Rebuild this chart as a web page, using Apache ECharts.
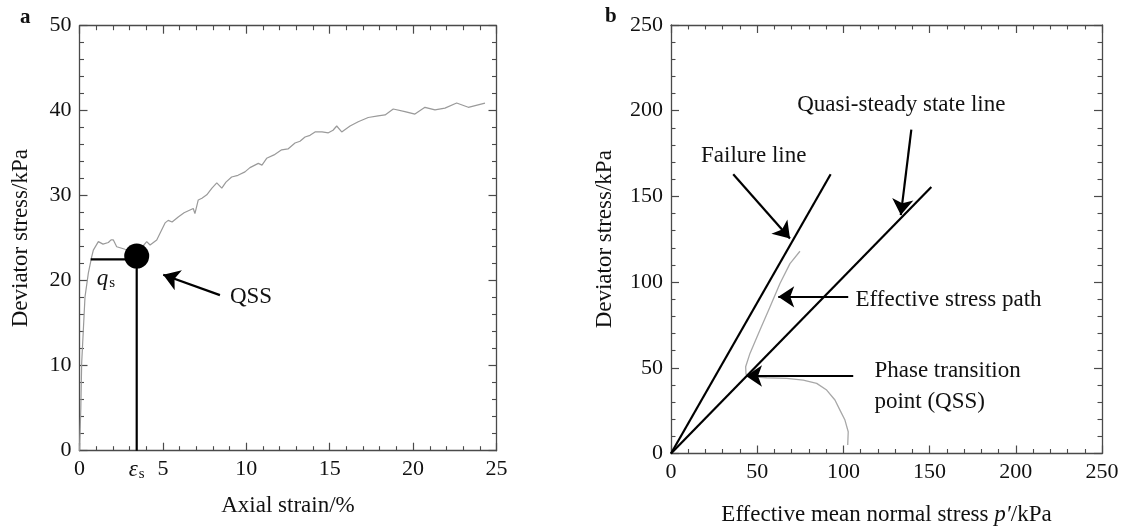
<!DOCTYPE html>
<html><head><meta charset="utf-8">
<script src="https://cdn.jsdelivr.net/npm/echarts@6/dist/echarts.min.js"></script>
<style>html,body{margin:0;padding:0;background:#fff}#c{width:1129px;height:527px}</style>
</head><body><div id="c"></div>
<script>
// ---------- Panel a: stress-strain curve ----------
const strainPct = [0.0, 0.08, 0.13, 0.23, 0.33, 0.53, 0.73, 0.83, 1.13, 1.41, 1.73, 1.89, 2.03, 2.23, 2.73, 3.09, 3.43, 4.03, 4.23, 4.63, 5.13, 5.32, 5.55, 5.92, 6.27, 6.82, 6.92, 7.12, 7.34, 7.63, 7.94, 8.23, 8.53, 8.78, 9.12, 9.50, 9.92, 10.22, 10.72, 10.94, 11.22, 11.66, 12.12, 12.5, 12.92, 13.22, 13.52, 13.82, 14.12, 14.54, 14.92, 15.2, 15.42, 15.72, 16.22, 16.71, 17.31, 17.9, 18.32, 18.81, 19.51, 20.11, 20.71, 21.31, 21.91, 22.61, 23.31, 24.31];
const deviatorA = [0, 5, 10.3, 14.2, 18.1, 20.9, 22.8, 23.6, 24.6, 24.3, 24.5, 24.8, 24.8, 24.0, 23.7, 23.6, 23.2, 24.6, 24.2, 24.8, 26.8, 27.1, 26.9, 27.5, 28.0, 28.5, 27.9, 29.5, 29.7, 30.1, 30.9, 31.5, 30.9, 31.6, 32.2, 32.4, 32.8, 33.3, 33.8, 33.6, 34.4, 34.8, 35.4, 35.5, 36.2, 36.4, 36.9, 37.1, 37.5, 37.5, 37.4, 37.7, 38.2, 37.5, 38.2, 38.7, 39.2, 39.4, 39.5, 40.2, 39.9, 39.6, 40.4, 40.1, 40.3, 40.9, 40.4, 40.9];
const qssStrain = 3.43;      // epsilon_s
const qssStress = 22.9;      // QSS point
const qsLevel = 22.5;        // q_s line level
const qsLineStart = 0.67;
const ticksA_x = [0, 5, 10, 15, 20, 25];
const ticksA_y = [0, 10, 20, 30, 40, 50];
const arrowA = [[8.42, 18.3], [5.02, 20.7]];
const labelQSS_A = [9.02, 18.1];
const labelQs = [1.03, 20.2];

// ---------- Panel b: stress path ----------
const pathP = [102.5, 102.8, 100.9, 98.0, 95.1, 90.3, 84.5, 76.7, 67.1, 55.5, 45.8, 43.5, 43.3, 45.8, 51.6, 57.4, 63.2, 69.0, 74.8];
const pathQ = [5, 12.7, 19.5, 25.3, 31.2, 37.0, 40.9, 42.8, 43.8, 44.2, 44.8, 46.3, 50.6, 58.4, 72, 85.5, 99.2, 110.8, 118];
const failureLine = [[0, 0], [92.6, 162.9]];
const qssLine = [[0, 0], [151, 155.5]];
const ticksB = [0, 50, 100, 150, 200, 250];
const arrowsB = [
  [[36.1, 162.9], [69.0, 125.4]],
  [[139.4, 189], [133.3, 139.1]],
  [[102.8, 91.4], [62.2, 91.4]],
  [[105.7, 45.2], [43.5, 45.2]]
];
const labelsB = [
  {text: 'Failure line', at: [17.4, 173.4]},
  {text: 'Quasi-steady state line', at: [73.2, 203.6]},
  {text: 'Effective stress path', at: [107, 89.5]},
  {text: 'Phase transition\npoint (QSS)', at: [118, 38.9]}
];

const FONT = 'Liberation Serif';
const AX = '#4a4a4a';
const TXT = '#111';

function mkAxis(dir, grid, pos, ticks, showLabel, name, nameGap) {
  const min = ticks[0], max = ticks[ticks.length - 1], interval = ticks[1] - ticks[0];
  return {
    type: 'value', gridIndex: grid, position: pos, min: min, max: max, interval: interval,
    axisLine: {show: true, onZero: false, lineStyle: {color: AX, width: 1.3}},
    axisTick: {show: true, inside: true, length: 8, lineStyle: {color: AX, width: 1.2}},
    minorTick: {show: true, splitNumber: 5, length: 4.5, lineStyle: {color: AX, width: 1.1}},
    splitLine: {show: false}, minorSplitLine: {show: false},
    axisLabel: {show: showLabel, fontFamily: FONT, fontSize: 22, color: TXT, margin: 8},
    name: name || '', nameLocation: 'middle', nameGap: nameGap || 0,
    nameTextStyle: {fontFamily: FONT, fontSize: 23, color: TXT,
      rich: {i: {fontFamily: FONT, fontSize: 23, fontStyle: 'italic', color: TXT}}}
  };
}

const chart = echarts.init(document.getElementById('c'), null, {renderer: 'canvas'});

const annotStyle = {fontFamily: FONT, fontSize: 23, color: TXT};

const option = {
  animation: false,
  backgroundColor: '#fff',
  title: [
    {text: 'a', left: 15, top: 2, textStyle: {fontFamily: FONT, fontWeight: 'bold', fontSize: 21, color: '#111'}},
    {text: 'b', left: 600, top: 1, textStyle: {fontFamily: FONT, fontWeight: 'bold', fontSize: 21, color: '#111'}}
  ],
  grid: [
    {left: 79.5, top: 25.7, width: 417, height: 425, outerBoundsMode: 'none', containLabel: false},
    {left: 671, top: 25, width: 431, height: 428.5, outerBoundsMode: 'none', containLabel: false}
  ],
  xAxis: [
    mkAxis('x', 0, 'bottom', ticksA_x, true, 'Axial strain/%', 44),
    mkAxis('x', 0, 'top', ticksA_x, false),
    mkAxis('x', 1, 'bottom', ticksB, true, 'Effective mean normal stress {i|p′}/kPa', 50),
    mkAxis('x', 1, 'top', ticksB, false)
  ],
  yAxis: [
    mkAxis('y', 0, 'left', ticksA_y, true, 'Deviator stress/kPa', 47),
    mkAxis('y', 0, 'right', ticksA_y, false),
    mkAxis('y', 1, 'left', ticksB, true, 'Deviator stress/kPa', 55),
    mkAxis('y', 1, 'right', ticksB, false)
  ],
  series: [
    // Panel a
    {type: 'line', xAxisIndex: 0, yAxisIndex: 0, showSymbol: false, symbol: 'none',
     lineStyle: {color: '#9a9a9a', width: 1.2},
     data: strainPct.map((x, i) => [x, deviatorA[i]]), z: 2},
    {type: 'line', xAxisIndex: 0, yAxisIndex: 0, symbol: 'none',
     lineStyle: {color: '#000', width: 2.2},
     data: [[qsLineStart, qsLevel], [qssStrain, qsLevel]], z: 3},
    {type: 'line', xAxisIndex: 0, yAxisIndex: 0, symbol: 'none',
     lineStyle: {color: '#000', width: 2.2},
     data: [[qssStrain, qssStress], [qssStrain, 0]], z: 3},
    {type: 'scatter', xAxisIndex: 0, yAxisIndex: 0, symbol: 'circle', symbolSize: 25,
     itemStyle: {color: '#000', opacity: 1}, data: [[qssStrain, qssStress]], z: 4},
    {type: 'lines', coordinateSystem: 'cartesian2d', xAxisIndex: 0, yAxisIndex: 0,
     symbol: ['none', 'arrow'], symbolSize: 16,
     lineStyle: {color: '#000', width: 2.2, opacity: 1},
     data: [{coords: arrowA}], z: 5},
    {type: 'scatter', xAxisIndex: 0, yAxisIndex: 0, symbolSize: 0, silent: true,
     itemStyle: {opacity: 1},
     data: [
       {value: labelQSS_A, label: {show: true, position: 'right', distance: 0, formatter: 'QSS', ...annotStyle}},
       {value: labelQs, label: {show: true, position: 'right', distance: 0, formatter: '{q|q}{s|s}',
          rich: {q: {fontFamily: FONT, fontSize: 23, fontStyle: 'italic', color: TXT},
                 s: {fontFamily: FONT, fontSize: 15, color: TXT, padding: [8, 0, 0, 1]}}}},
       {value: [qssStrain, 0], label: {show: true, position: 'bottom', distance: 8, formatter: '{e|ε}{s|s}',
          rich: {e: {fontFamily: FONT, fontSize: 23, fontStyle: 'italic', color: TXT},
                 s: {fontFamily: FONT, fontSize: 15, color: TXT, padding: [8, 0, 0, 1]}}}}
     ], z: 6},
    // Panel b
    {type: 'line', xAxisIndex: 2, yAxisIndex: 2, symbol: 'none',
     lineStyle: {color: '#000', width: 2.2}, data: failureLine, z: 3},
    {type: 'line', xAxisIndex: 2, yAxisIndex: 2, symbol: 'none',
     lineStyle: {color: '#000', width: 2.2}, data: qssLine, z: 3},
    {type: 'line', xAxisIndex: 2, yAxisIndex: 2, symbol: 'none',
     lineStyle: {color: '#a8a8a8', width: 1.3},
     data: pathP.map((p, i) => [p, pathQ[i]]), z: 2},
    {type: 'lines', coordinateSystem: 'cartesian2d', xAxisIndex: 2, yAxisIndex: 2,
     symbol: ['none', 'arrow'], symbolSize: 16,
     lineStyle: {color: '#000', width: 2.2, opacity: 1},
     data: arrowsB.map(c => ({coords: c})), z: 5},
    {type: 'scatter', xAxisIndex: 2, yAxisIndex: 2, symbolSize: 0, silent: true,
     itemStyle: {opacity: 1},
     data: labelsB.map(l => ({value: l.at, label: {show: true, position: 'right', distance: 0,
       formatter: l.text, lineHeight: 31, ...annotStyle}})), z: 6}
  ]
};
chart.setOption(option);
</script>
</body></html>
